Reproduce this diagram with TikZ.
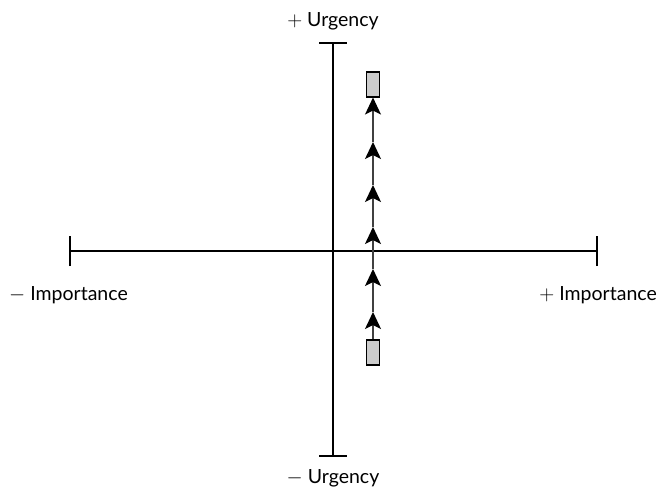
\documentclass[tikz,border=0pt]{standalone}
\usepackage{fontspec}
\setmainfont{Lato}
\usetikzlibrary{arrows.meta}
\tikzset{
  axis/.style={line width=1.2pt, black},
  tickmark/.style={line width=1.2pt, black},
  box/.style={draw, line width=1.1pt, fill=black!20, minimum width=13pt, minimum height=25pt, inner sep=0pt},
  flow/.style={line width=1.3pt, draw=black!75, -{Stealth[length=17pt, width=16pt, inset=4pt, color=black, fill=black]}},
  lbl/.style={font=\fontsize{19.5}{22}\selectfont, inner sep=0pt}
}
\begin{document}
\begin{tikzpicture}[x=1pt,y=-1pt]
\useasboundingbox (0,0) rectangle (657,487);
% axes
\coordinate (vt) at (333,43);
\coordinate (vb) at (333,456);
\coordinate (hl) at (70,251);
\coordinate (hr) at (597,251);
\draw[axis] (vt) -- (vb);
\draw[axis] (hl) -- (hr);
\draw[tickmark] ([xshift=-14pt]vt) -- ([xshift=14pt]vt);
\draw[tickmark] ([xshift=-14pt]vb) -- ([xshift=14pt]vb);
\draw[tickmark] ([yshift=-15pt]hl) -- ([yshift=15pt]hl);
\draw[tickmark] ([yshift=-15pt]hr) -- ([yshift=15pt]hr);
% labels
\node[lbl, anchor=base] (ut) at (333,27) {$+$ Urgency};
\node[lbl, anchor=base] (ub) at (333,483) {$-$ Urgency};
\node[lbl, anchor=base west] (il) at (9,300) {$-$ Importance};
\node[lbl, anchor=base east] (ir) at (657,300) {$+$ Importance};
% boxes
\node[box] (top) at (373,84.5) {};
\node[box] (bot) at (373,352.5) {};
% arrow chain
\coordinate (a1) at (373,312);
\coordinate (a2) at (373,269);
\coordinate (a3) at (373,227);
\coordinate (a4) at (373,185);
\coordinate (a5) at (373,142);
\draw[flow] (bot.north) -- (a1);
\draw[flow] (a1) -- (a2);
\draw[flow] (a2) -- (a3);
\draw[flow] (a3) -- (a4);
\draw[flow] (a4) -- (a5);
\draw[flow] (a5) -- (top.south);
\end{tikzpicture}
\end{document}
